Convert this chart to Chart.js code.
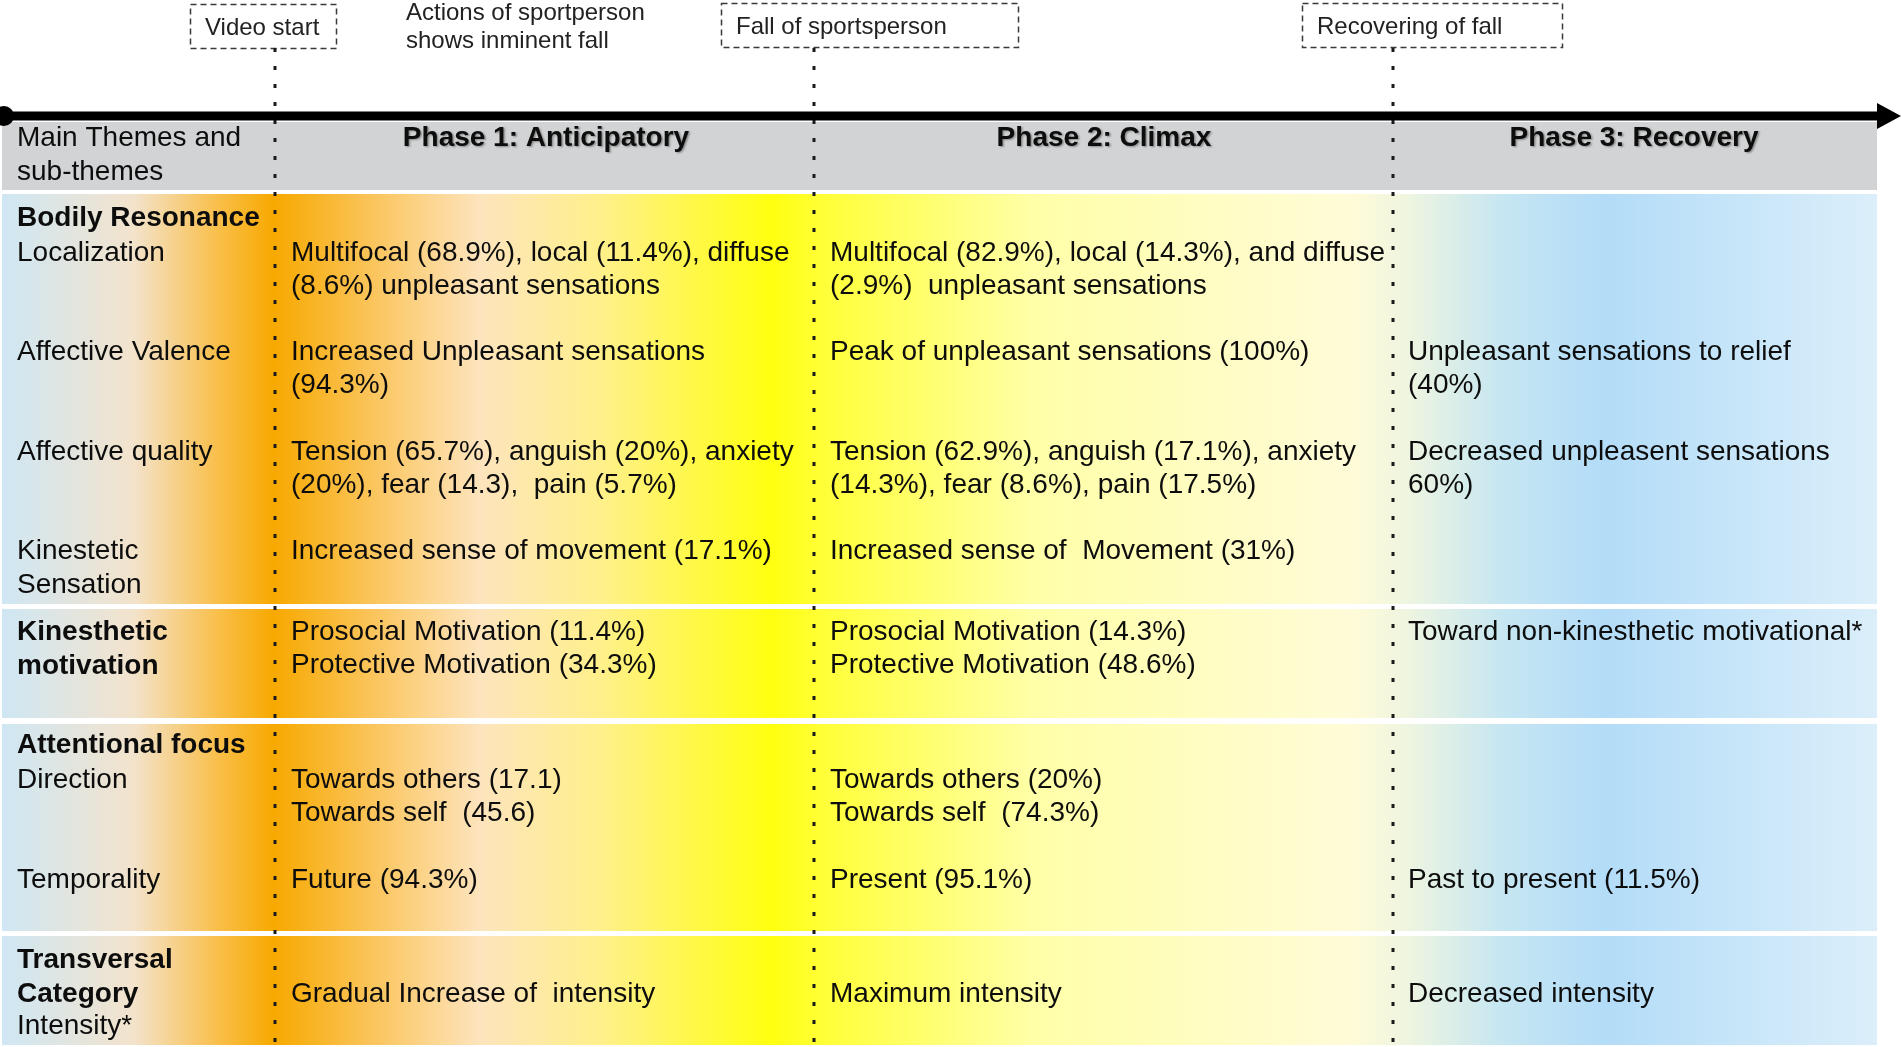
<!DOCTYPE html>
<html><head><meta charset="utf-8">
<script src="https://cdn.jsdelivr.net/npm/chart.js@4/dist/chart.umd.min.js"></script>
<style>html,body{margin:0;padding:0;background:#fff;overflow:hidden}#wrap{width:1901px;height:1047px;position:relative}</style>
</head><body><div id="wrap"><canvas id="c"></canvas></div>
<script>
// ---- content ----
const eventLabels = ['Video start', 'Fall of sportsperson', 'Recovering of fall'];
const eventNote = ['Actions of sportperson', 'shows inminent fall'];
const headerLabel = ['Main Themes and', 'sub-themes'];
const phaseTitles = ['Phase 1: Anticipatory', 'Phase 2: Climax', 'Phase 3: Recovery'];
const themeNames = [['Bodily Resonance'], ['Kinesthetic', 'motivation'], ['Attentional focus'], ['Transversal', 'Category']];
const subThemes = [['Localization'], ['Affective Valence'], ['Affective quality'], ['Kinestetic', 'Sensation'], [], ['Direction'], ['Temporality'], ['Intensity*']];
const phase1Cells = [
  ['Multifocal (68.9%), local (11.4%), diffuse', '(8.6%) unpleasant sensations'],
  ['Increased Unpleasant sensations', '(94.3%)'],
  ['Tension (65.7%), anguish (20%), anxiety', '(20%), fear (14.3),  pain (5.7%)'],
  ['Increased sense of movement (17.1%)'],
  ['Prosocial Motivation (11.4%)', 'Protective Motivation (34.3%)'],
  ['Towards others (17.1)', 'Towards self  (45.6)'],
  ['Future (94.3%)'],
  ['Gradual Increase of  intensity']
];
const phase2Cells = [
  ['Multifocal (82.9%), local (14.3%), and diffuse', '(2.9%)  unpleasant sensations'],
  ['Peak of unpleasant sensations (100%)'],
  ['Tension (62.9%), anguish (17.1%), anxiety', '(14.3%), fear (8.6%), pain (17.5%)'],
  ['Increased sense of  Movement (31%)'],
  ['Prosocial Motivation (14.3%)', 'Protective Motivation (48.6%)'],
  ['Towards others (20%)', 'Towards self  (74.3%)'],
  ['Present (95.1%)'],
  ['Maximum intensity']
];
const phase3Cells = [
  [],
  ['Unpleasant sensations to relief', '(40%)'],
  ['Decreased unpleasent sensations', '60%)'],
  [],
  ['Toward non-kinesthetic motivational*'],
  [],
  ['Past to present (11.5%)'],
  ['Decreased intensity']
];

// ---- layout (chart units) ----
const W = 1901, H = 1047;
const eventX = [275, 814, 1393];
const boxes = [[190, 336, 4, 48], [721, 1018, 3, 47], [1302, 1562, 3, 47]];
const noteX = 406, noteY = [13, 41];
const arrowY = 116, arrowEnd = 1901, tableRight = 1877;
const headerBand = [122, 190];
const rowBands = [[194, 604], [609, 718], [724, 931], [936, 1045]];
const themeY = [218, 632, 745, 960];
const subLabelY = [253, 352, 452, 551, 632, 780, 880, 1026];
const cellY = [253, 352, 452, 551, 632, 780, 880, 994];
const labelX = 17, colX = [291, 830, 1408], phaseCenterX = [546, 1104, 1634];
const lineH = 33;
const gradStops = [
  [0.0, '#cfe7f4'], [0.07, '#f3e3cc'], [0.115, '#f9bf4a'], [0.145, '#f7a900'],
  [0.20, '#fbc660'], [0.255, '#fde4bd'], [0.32, '#fff08a'], [0.41, '#ffff10'],
  [0.44, '#ffff3a'], [0.55, '#ffffa8'], [0.72, '#fffbd8'], [0.75, '#eef5e0'],
  [0.80, '#c6e6f2'], [0.855, '#b3dcf8'], [0.93, '#c8e6f9'], [1.0, '#dbeefa']
];

const FONT = '"Liberation Sans", Arial, sans-serif';
const TXT = '#0d0d0d';

const drawPlugin = {
  id: 'tableDraw',
  beforeDatasetsDraw(chart) {
    const ctx = chart.ctx, xs = chart.scales.x, ys = chart.scales.y;
    const px = v => xs.getPixelForValue(v), py = v => ys.getPixelForValue(v);
    ctx.save();
    ctx.fillStyle = '#d1d3d4';
    ctx.fillRect(px(2), py(headerBand[0]), px(tableRight) - px(2), py(headerBand[1]) - py(headerBand[0]));
    const g = ctx.createLinearGradient(px(2), 0, px(tableRight), 0);
    gradStops.forEach(s => g.addColorStop(s[0], s[1]));
    ctx.fillStyle = g;
    rowBands.forEach(b => ctx.fillRect(px(2), py(b[0]), px(tableRight) - px(2), py(b[1]) - py(b[0])));
    ctx.strokeStyle = '#3a3a3a'; ctx.lineWidth = 1.5; ctx.setLineDash([6, 4]);
    boxes.forEach(b => ctx.strokeRect(px(b[0]) + 0.5, py(b[2]) + 0.5, px(b[1]) - px(b[0]), py(b[3]) - py(b[2])));
    ctx.setLineDash([]);
    ctx.restore();
  },
  afterDatasetsDraw(chart) {
    const ctx = chart.ctx, xs = chart.scales.x, ys = chart.scales.y;
    const px = v => xs.getPixelForValue(v), py = v => ys.getPixelForValue(v);
    ctx.save();
    ctx.fillStyle = '#000';
    ctx.beginPath();
    ctx.moveTo(px(arrowEnd), py(arrowY));
    ctx.lineTo(px(arrowEnd - 24), py(arrowY - 13));
    ctx.lineTo(px(arrowEnd - 24), py(arrowY + 13));
    ctx.closePath(); ctx.fill();
    ctx.beginPath(); ctx.arc(px(4), py(arrowY), 10, 0, Math.PI * 2); ctx.fill();

    ctx.textBaseline = 'middle';
    ctx.fillStyle = '#222';
    ctx.font = '24px ' + FONT;
    ctx.textAlign = 'left';
    eventLabels.forEach((t, i) => ctx.fillText(t, px(boxes[i][0] + 15), py((boxes[i][2] + boxes[i][3]) / 2 + 2)));
    eventNote.forEach((t, i) => ctx.fillText(t, px(noteX), py(noteY[i])));

    ctx.fillStyle = TXT;
    ctx.font = '28px ' + FONT;
    headerLabel.forEach((t, i) => ctx.fillText(t, px(labelX), py(138 + i * 34)));

    ctx.save();
    ctx.font = 'bold 28px ' + FONT;
    ctx.textAlign = 'center';
    ctx.shadowColor = 'rgba(0,0,0,0.35)'; ctx.shadowOffsetX = 1.5; ctx.shadowOffsetY = 1.5; ctx.shadowBlur = 2;
    phaseTitles.forEach((t, i) => ctx.fillText(t, px(phaseCenterX[i]), py(138)));
    ctx.restore();

    ctx.font = 'bold 28px ' + FONT;
    themeNames.forEach((lines, i) => lines.forEach((t, j) => ctx.fillText(t, px(labelX), py(themeY[i] + j * (lineH + 1)))));
    ctx.font = '28px ' + FONT;
    subThemes.forEach((lines, i) => lines.forEach((t, j) => ctx.fillText(t, px(labelX), py(subLabelY[i] + j * (lineH + 1)))));
    [phase1Cells, phase2Cells, phase3Cells].forEach((cells, c) => {
      cells.forEach((lines, i) => lines.forEach((t, j) => ctx.fillText(t, px(colX[c]), py(cellY[i] + j * lineH))));
    });
    ctx.restore();
  }
};

const dotted = eventX.map(x => ({
  data: [{x: x, y: 48}, {x: x, y: 1045}],
  showLine: true, borderColor: '#1a1a1a', borderWidth: 3, borderDash: [4, 14],
  borderCapStyle: 'butt', pointRadius: 0, fill: false
}));
const arrowLine = {
  data: [{x: 0, y: arrowY}, {x: arrowEnd - 20, y: arrowY}],
  showLine: true, borderColor: '#000', borderWidth: 9, pointRadius: 0, fill: false
};

new Chart(document.getElementById('c'), {
  type: 'scatter',
  data: {datasets: [arrowLine, ...dotted]},
  options: {
    responsive: true, maintainAspectRatio: false, animation: false,
    layout: {padding: 0},
    plugins: {legend: {display: false}, tooltip: {enabled: false}},
    scales: {
      x: {type: 'linear', min: 0, max: W, display: false},
      y: {type: 'linear', min: 0, max: H, reverse: true, display: false}
    },
    events: []
  },
  plugins: [drawPlugin]
});
</script></body></html>
